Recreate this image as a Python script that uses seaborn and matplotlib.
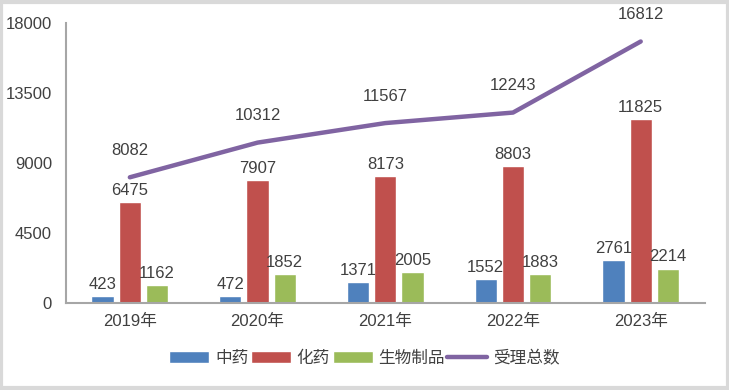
import matplotlib
matplotlib.use("Agg")
import matplotlib.pyplot as plt
import seaborn as sns
import pandas as pd
from matplotlib.patches import Rectangle

years = ["2019年", "2020年", "2021年", "2022年", "2023年"]
tcm = [423, 472, 1371, 1552, 2761]
chem = [6475, 7907, 8173, 8803, 11825]
bio = [1162, 1852, 2005, 1883, 2214]
total = [8082, 10312, 11567, 12243, 16812]
series_names = ["中药", "化药", "生物制品"]
line_name = "受理总数"
yticks = [0, 4500, 9000, 13500, 18000]

sns.set_theme(style="white")
plt.rcParams["font.family"] = ["Liberation Sans", "Noto Sans CJK SC", "DejaVu Sans"]

colors = ["#4F81BD", "#C0504D", "#9BBB59"]
line_color = "#8064A2"
text_color = "#404040"
fs = 12

df = pd.DataFrame({
    "year": years * 3,
    "value": tcm + chem + bio,
    "series": [series_names[0]] * 5 + [series_names[1]] * 5 + [series_names[2]] * 5,
})

fig = plt.figure(figsize=(7.29, 3.90), dpi=100)
ax = fig.add_axes([0.0905, 0.223, 0.876, 0.718])

sns.barplot(data=df, x="year", y="value", hue="series", order=years,
            hue_order=series_names, palette=colors, width=0.64, gap=0.18,
            saturation=1, ax=ax, legend=True)

for cont in ax.containers:
    ax.bar_label(cont, fmt="%d", padding=3, fontsize=fs, color=text_color)

line_df = pd.DataFrame({"year": years, "value": total})
sns.lineplot(data=line_df, x="year", y="value", color=line_color, linewidth=3.2,
             label=line_name, ax=ax, solid_capstyle="round")
for i, v in enumerate(total):
    ax.annotate(str(v), (i, v), xytext=(0, 14), textcoords="offset points",
                ha="center", va="bottom", fontsize=fs, color=text_color)

ax.set_xlim(-0.5, 4.5)
ax.set_ylim(0, 18000)
ax.set_yticks(yticks)
ax.set_yticklabels([str(t) for t in yticks])
ax.set_xlabel("")
ax.set_ylabel("")
ax.tick_params(axis="both", length=0, labelsize=fs, colors=text_color)
ax.tick_params(axis="y", pad=10)
ax.tick_params(axis="x", pad=8)
for s in ["top", "right"]:
    ax.spines[s].set_visible(False)
for s in ["left", "bottom"]:
    ax.spines[s].set_color("#A6A6A6")
    ax.spines[s].set_linewidth(1.5)
ax.grid(False)

handles, labels = ax.get_legend_handles_labels()
ax.legend(handles, labels, loc="center", bbox_to_anchor=(0.5, 0.082),
          bbox_transform=fig.transFigure, ncol=4, frameon=False,
          fontsize=fs, handlelength=2.4, handleheight=0.7, columnspacing=0.15,
          handletextpad=0.35, labelcolor=text_color)

fig.patches.append(Rectangle((0.002, 0.004), 0.996, 0.992, transform=fig.transFigure,
                             fill=False, edgecolor="#D9D9D9", linewidth=3))

fig.savefig("out.png", dpi=100)
